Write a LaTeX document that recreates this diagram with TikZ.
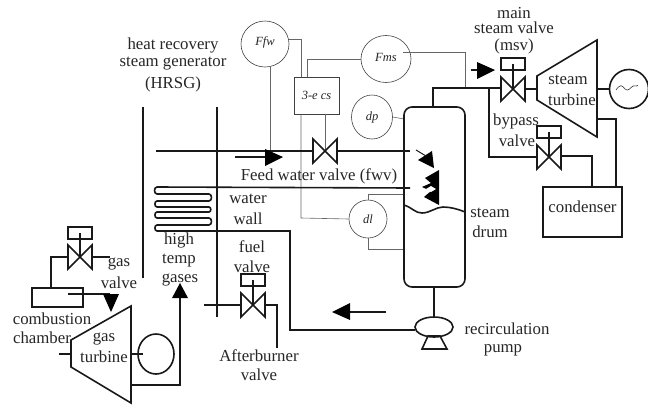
\documentclass[tikz,border=0pt]{standalone}
\usepackage{fontspec}
\setmainfont{Liberation Serif}
\tikzset{
  label text/.style={font=\fontsize{16.8}{18}\selectfont, inner sep=0pt, text=black!85},
  signal text/.style={font=\fontsize{12.5}{14}\selectfont\itshape, inner sep=0pt, text=black!85},
  pipe/.style={line width=1.6pt, black!90},
  signal/.style={line width=0.6pt, black!60},
  sensor/.style={draw=black!75, line width=0.6pt, ellipse, inner sep=0pt},
  head/.style={fill=black, draw=none},
  valve/.pic={
    \draw[pipe] (-12,-12) -- (12,12) -- (12,-12) -- (-12,12) -- cycle;
  },
  actuator/.pic={
    \draw[pipe] (-12,-6) rectangle (12,6);
  }
}
\usetikzlibrary{shapes.geometric}
\begin{document}
\begin{tikzpicture}[x=1pt, y=-1pt]
  \useasboundingbox (0,0) rectangle (648,405);

  \path
    coordinate (gasv)   at (80,257)
    coordinate (fuelv)  at (253,305)
    coordinate (fwv)    at (325,151)
    coordinate (msv)    at (513,89)
    coordinate (bypv)   at (549,157)
    coordinate (gasa)   at (80,233)
    coordinate (fuela)  at (253,280)
    coordinate (msva)   at (513,64)
    coordinate (bypa)   at (549,132)
  ;

  % signal lines
  \node[sensor, minimum width=48pt, minimum height=46pt] (ffw) at (265,44) {};
  \node[sensor, minimum width=50pt, minimum height=47pt] (fms) at (386,59) {};
  \node[sensor, minimum width=41pt, minimum height=44pt] (dp) at (372,117) {};
  \node[sensor, minimum width=38pt, minimum height=38pt] (dl) at (368,219) {};
  \node[draw=black!75, line width=0.6pt, fill=white, minimum width=45pt, minimum height=37pt, inner sep=0pt] (cs) at (316.5,95.5) {};
  \draw[signal] (289,39) -- (301,39) -- (301,77);
  \draw[signal] (301,114) -- (301,218) -- (dl.west);
  \draw[signal] (307,77) -- (307,59) -- (fms.west);
  \draw[signal] (403,52) -- (465,52) -- (465,88);
  \draw[signal] (dp.east) -- (404,119);
  \draw[signal] (dl.north) -- (368,194) -- (404,194);
  \draw[signal] (dl.south) -- (368,249) -- (404,249);
  \draw[signal] (270,67) -- (270,151);
  \draw[signal] (325,114) -- (fwv);

  % hrsg
  \draw[pipe] (143,107) -- (143,278);
  \draw[pipe] (217,107) -- (217,317);
  \draw[pipe] (156,151) -- (313,151);
  \draw[pipe] (337,151) -- (410,151);
  \draw[pipe] (410,188) -- (157,187) to[out=180, in=180, looseness=1.2] (157,194) -- (209,194)
    to[out=0, in=0, looseness=1.2] (209,201) -- (157,201) to[out=180, in=180, looseness=1.2] (157,207) -- (209,207)
    to[out=0, in=0, looseness=1.2] (209,212) -- (157,212) to[out=180, in=180, looseness=1.2] (157,218) -- (209,218)
    to[out=0, in=0, looseness=1.2] (209,225) -- (157,225) to[out=180, in=180, looseness=1.2] (157,231)
    -- (290,231) -- (290,330) -- (415,330);
  \pic at (fwv) {valve};

  % drum
  \draw[pipe, rounded corners=8pt] (404,107) rectangle (465,287);
  \draw[pipe] (404,205) .. controls (413,208) and (415,213) .. (422,213)
    .. controls (430,213) and (436,207) .. (443,207) .. controls (450,207) and (458,209) .. (465,212);
  \draw[pipe] (434,287) -- (434,317);
  \draw[pipe] (433,107) -- (433,88) -- (501,88);
  \draw[head] (418,160) -- (432,151) -- (434,168) -- cycle;
  \draw[pipe, line width=1pt] (416,150) -- (426,156);
  \draw[head] (439,170) -- (425,178) -- (431,183) -- (422,187) -- (431,191) -- (424,197) -- (439,205) -- cycle;
  \draw[fill=white, draw=none] (426,189) -- (431,186) -- (436,189) -- (431,192) -- cycle;

  % pump
  \node[draw=black!90, line width=1.6pt, ellipse, fill=white, minimum width=38pt, minimum height=20pt, inner sep=0pt] (pump) at (434,327) {};
  \draw[pipe] (428,336) -- (440,336) -- (447,349) -- (422,349) -- cycle;

  % steam turbine
  \pic at (msv) {valve};
  \pic at (msva) {actuator};
  \draw[pipe] (msva) -- (msv);
  \draw[pipe] (526,89) -- (537,89);
  \draw[pipe] (537,76) -- (597,40) -- (597,137) -- (537,100) -- cycle;
  \node[draw=black!90, line width=1.6pt, circle, minimum size=39pt, inner sep=0pt] (gen) at (629,89) {};
  \draw[pipe] (597,89) -- (gen.west);
  \draw[line width=0.6pt, black!80] (616,90) .. controls (620,84) and (622,85) .. (625,89)
    .. controls (628,92) and (630,88) .. (633,86) .. controls (635,84) and (636,88) .. (638,85);
  \draw[pipe] (489,89) -- (489,157) -- (537,157);
  \pic at (bypv) {valve};
  \pic at (bypa) {actuator};
  \draw[pipe] (bypa) -- (bypv);
  \draw[pipe] (561,156) -- (592,156) -- (592,187);
  \draw[pipe] (597,119) -- (616,119) -- (616,187);
  \node[draw=black!90, line width=1.6pt, minimum width=79pt, minimum height=50pt, inner sep=0pt] (condenser) at (582.5,212) {};
  \draw[pipe] (471,70) -- (480,70);
  \draw[head] (495,70) -- (477,62) -- (477,79) -- cycle;

  % gas turbine
  \pic at (gasv) {valve};
  \pic at (gasa) {actuator};
  \draw[pipe] (gasa) -- (gasv);
  \draw[pipe] (92,257) -- (110,257);
  \draw[pipe] (68,257) -- (51,257) -- (51,288);
  \draw[pipe] (32,288) rectangle (83,307);
  \draw[pipe] (68,294) -- (110,294);
  \draw[head] (103,294) -- (119,294) -- (111,312) -- cycle;
  \draw[pipe] (71,340) -- (131,306) -- (131,403) -- (71,367) -- cycle;
  \draw[pipe] (59,354) -- (71,354);
  \node[draw=black!90, line width=1.6pt, ellipse, minimum width=36pt, minimum height=40pt, inner sep=0pt] (gas gen) at (156,354) {};
  \draw[pipe] (131,354) -- (143,354);
  \draw[pipe] (131,385) -- (180,385) -- (180,296);
  \draw[head] (180,283) -- (172,298) -- (188,298) -- cycle;

  % afterburner
  \pic at (fuelv) {valve};
  \pic at (fuela) {actuator};
  \draw[pipe] (fuela) -- (fuelv);
  \draw[pipe] (204,305) -- (241,305);
  \draw[pipe] (265,305) -- (277,305) -- (277,348);

  % arrows
  \draw[pipe] (235,157) -- (266,157);
  \draw[head] (283,157) -- (265,149) -- (265,166) -- cycle;
  \draw[pipe] (386,312) -- (348,312);
  \draw[head] (332,312) -- (350,303) -- (350,320) -- cycle;

  \node[label text] (t1) at (173,45) {heat recovery};
  \node[label text] (t2) at (173,64) {steam generator};
  \node[label text] (t3) at (173,84) {(HRSG)};
  \node[label text] (fwv text) at (319,176) {Feed water valve (fwv)};
  \node[label text] (water) at (248,199) {water};
  \node[label text] (wall) at (248,219) {wall};
  \node[label text] (high) at (179,240) {high};
  \node[label text] (temp) at (179,261) {temp};
  \node[label text] (gases) at (180,280) {gases};
  \node[label text] (fuel) at (252,247) {fuel};
  \node[label text] (fuel2) at (252,267) {valve};
  \node[label text] (gas) at (119,264) {gas};
  \node[label text] (gas2) at (119,283) {valve};
  \node[label text] (comb) at (52,319) {combustion};
  \node[label text] (chamber) at (42,338) {chamber};
  \node[label text] (gast) at (104,339) {gas};
  \node[label text] (gast2) at (104,357) {turbine};
  \node[label text] (after) at (259,356) {Afterburner};
  \node[label text] (after2) at (259,375) {valve};
  \node[label text] (main) at (514,13) {main};
  \node[label text] (main2) at (514,28) {steam valve};
  \node[label text] (main3) at (514,46) {(msv)};
  \node[label text] (steamt) at (568,80) {steam};
  \node[label text] (steamt2) at (572,100) {turbine};
  \node[label text] (byp) at (516,121) {bypass};
  \node[label text] (byp2) at (517,141) {valve};
  \node[label text] (cond text) at (582.5,207) {condenser};
  \node[label text] (drum) at (490,213) {steam};
  \node[label text] (drum2) at (490,232) {drum};
  \node[label text] (recirc) at (507,329) {recirculation};
  \node[label text] (pump2) at (503,350) {pump};
  \node[signal text] at (265,42) {Ffw};
  \node[signal text] at (386,57) {Fms};
  \node[signal text] at (cs.center) {3-e cs};
  \node[signal text] at (dp.center) {dp};
  \node[signal text] at (dl.center) {dl};
\end{tikzpicture}
\end{document}
